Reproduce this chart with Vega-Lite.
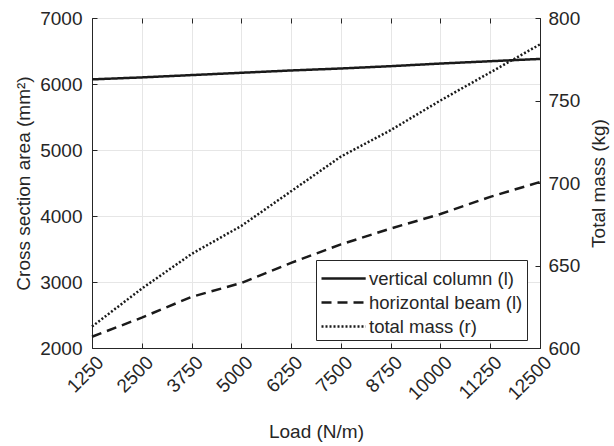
{
  "$schema": "https://vega.github.io/schema/vega-lite/v6.json",
  "width": 448,
  "height": 330,
  "autosize": "none",
  "padding": {"left": 92, "top": 18, "right": 74, "bottom": 98},
  "background": "white",
  "config": {
    "font": "Liberation Sans",
    "view": {"stroke": "#262626", "strokeWidth": 1},
    "axis": {
      "labelFont": "Liberation Sans",
      "titleFont": "Liberation Sans",
      "labelFontSize": 19,
      "titleFontSize": 19,
      "titleFontWeight": "normal",
      "labelColor": "#262626",
      "titleColor": "#262626",
      "domainColor": "#262626",
      "tickColor": "#262626",
      "gridColor": "#e6e6e6",
      "tickSize": -5,
      "labelPadding": 15,
      "labelOverlap": false,
      "labelFlush": false
    }
  },
  "data": {
    "values": [
      {"load": 1250, "series": "vertical column (l)", "area": 6070},
      {"load": 2500, "series": "vertical column (l)", "area": 6100},
      {"load": 3750, "series": "vertical column (l)", "area": 6135},
      {"load": 5000, "series": "vertical column (l)", "area": 6170},
      {"load": 6250, "series": "vertical column (l)", "area": 6205},
      {"load": 7500, "series": "vertical column (l)", "area": 6235},
      {"load": 8750, "series": "vertical column (l)", "area": 6270},
      {"load": 10000, "series": "vertical column (l)", "area": 6310},
      {"load": 11250, "series": "vertical column (l)", "area": 6345},
      {"load": 12500, "series": "vertical column (l)", "area": 6380},
      {"load": 1250, "series": "horizontal beam (l)", "area": 2170},
      {"load": 2500, "series": "horizontal beam (l)", "area": 2460},
      {"load": 3750, "series": "horizontal beam (l)", "area": 2775},
      {"load": 5000, "series": "horizontal beam (l)", "area": 2985},
      {"load": 6250, "series": "horizontal beam (l)", "area": 3290},
      {"load": 7500, "series": "horizontal beam (l)", "area": 3570},
      {"load": 8750, "series": "horizontal beam (l)", "area": 3810},
      {"load": 10000, "series": "horizontal beam (l)", "area": 4030},
      {"load": 11250, "series": "horizontal beam (l)", "area": 4290},
      {"load": 12500, "series": "horizontal beam (l)", "area": 4515},
      {"load": 1250, "series": "total mass (r)", "mass": 613},
      {"load": 2500, "series": "total mass (r)", "mass": 636},
      {"load": 3750, "series": "total mass (r)", "mass": 657},
      {"load": 5000, "series": "total mass (r)", "mass": 674},
      {"load": 6250, "series": "total mass (r)", "mass": 695},
      {"load": 7500, "series": "total mass (r)", "mass": 716},
      {"load": 8750, "series": "total mass (r)", "mass": 732},
      {"load": 10000, "series": "total mass (r)", "mass": 750},
      {"load": 11250, "series": "total mass (r)", "mass": 767},
      {"load": 12500, "series": "total mass (r)", "mass": 784}
    ]
  },
  "layer": [
    {
      "transform": [{"filter": "datum.series !== 'total mass (r)'"}],
      "mark": {"type": "line", "color": "#1a1a1a", "strokeWidth": 2.5},
      "encoding": {
        "x": {
          "field": "load",
          "type": "quantitative",
          "scale": {"domain": [1250, 12500], "nice": false, "zero": false},
          "axis": {
            "title": "Load (N/m)",
            "values": [1250, 2500, 3750, 5000, 6250, 7500, 8750, 10000, 11250, 12500],
            "format": "d",
            "labelAngle": -45,
            "labelAlign": "right",
            "labelBaseline": "middle",
            "labelPadding": 16,
            "labelOffset": 8,
            "titlePadding": 19,
            "grid": true
          }
        },
        "y": {
          "field": "area",
          "type": "quantitative",
          "scale": {"domain": [2000, 7000], "nice": false, "zero": false},
          "axis": {
            "title": "Cross section area (mm²)",
            "values": [2000, 3000, 4000, 5000, 6000, 7000],
            "format": "d",
            "grid": true,
            "titlePadding": 6
          }
        },
        "strokeDash": {
          "field": "series",
          "type": "nominal",
          "scale": {
            "domain": ["vertical column (l)", "horizontal beam (l)", "total mass (r)"],
            "range": [[1, 0], [10, 6], [2, 2]]
          },
          "legend": {
            "title": null,
            "orient": "none",
            "legendX": 224,
            "legendY": 242,
            "symbolType": "M-1,0H2.4",
            "symbolSize": 676,
            "symbolStrokeWidth": 2.5,
            "symbolStrokeColor": "#000000",
            "labelFontSize": 18.5,
            "labelFont": "Liberation Sans",
            "labelColor": "#262626",
            "rowPadding": 0,
            "padding": 4,
            "strokeColor": "#262626",
            "fillColor": "white",
            "labelOffset": 20,
            "labelLimit": 300
          }
        }
      }
    },
    {
      "transform": [{"filter": "datum.series === 'total mass (r)'"}],
      "mark": {"type": "line", "color": "#1a1a1a", "strokeWidth": 2.5},
      "encoding": {
        "x": {
          "field": "load",
          "type": "quantitative",
          "axis": {
            "orient": "top",
            "title": null,
            "labels": false,
            "grid": false,
            "domain": false,
            "values": [1250, 2500, 3750, 5000, 6250, 7500, 8750, 10000, 11250, 12500]
          }
        },
        "y": {
          "field": "mass",
          "type": "quantitative",
          "scale": {"domain": [600, 800], "nice": false, "zero": false},
          "axis": {
            "orient": "right",
            "title": "Total mass (kg)",
            "titleAngle": 270,
            "values": [600, 650, 700, 750, 800],
            "grid": false,
            "labelPadding": 13,
            "titlePadding": 29
          }
        },
        "strokeDash": {"field": "series", "type": "nominal"}
      }
    }
  ],
  "resolve": {"scale": {"y": "independent"}, "axis": {"x": "independent"}}
}
